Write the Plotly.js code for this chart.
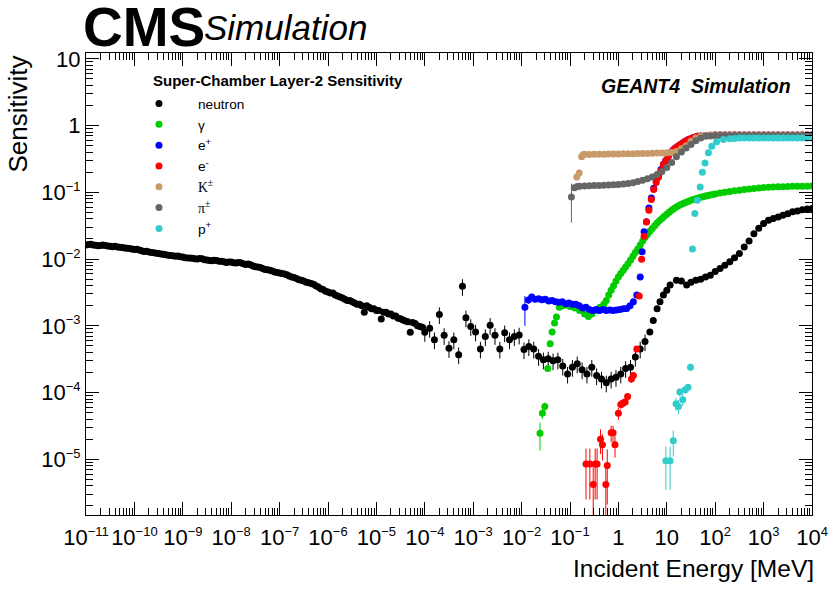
<!DOCTYPE html>
<html><head><meta charset="utf-8">
<script src="https://cdn.plot.ly/plotly-3.0.1.min.js"></script>
<style>html,body{margin:0;padding:0;background:#fff}#chart{width:830px;height:590px}</style>
</head><body><div id="chart"></div>
<script>
// ---------------- data (energy in MeV, sensitivity) ----------------
const neutronE = [
 1e-11,1.12e-11,1.26e-11,1.41e-11,1.58e-11,1.78e-11,2e-11,2.24e-11,2.51e-11,2.82e-11,3.16e-11,3.55e-11,3.98e-11,4.47e-11,5.01e-11,5.62e-11,6.31e-11,7.08e-11,7.94e-11,8.91e-11,
 1e-10,1.12e-10,1.26e-10,1.41e-10,1.58e-10,1.78e-10,2e-10,2.24e-10,2.51e-10,2.82e-10,3.16e-10,3.55e-10,3.98e-10,4.47e-10,5.01e-10,5.62e-10,6.31e-10,7.08e-10,7.94e-10,8.91e-10,
 1e-9,1.12e-9,1.26e-9,1.41e-9,1.58e-9,1.78e-9,2e-9,2.24e-9,2.51e-9,2.82e-9,3.16e-9,3.55e-9,3.98e-9,4.47e-9,5.01e-9,5.62e-9,6.31e-9,7.08e-9,7.94e-9,8.91e-9,
 1e-8,1.12e-8,1.26e-8,1.41e-8,1.58e-8,1.78e-8,2e-8,2.24e-8,2.51e-8,2.82e-8,3.16e-8,3.55e-8,3.98e-8,4.47e-8,5.01e-8,5.62e-8,6.31e-8,7.08e-8,7.94e-8,8.91e-8,
 1e-7,1.12e-7,1.26e-7,1.41e-7,1.58e-7,1.78e-7,2e-7,2.24e-7,2.51e-7,2.82e-7,3.16e-7,3.55e-7,3.98e-7,4.47e-7,5.01e-7,5.62e-7,6.31e-7,7.08e-7,7.94e-7,8.91e-7,
 1e-6,1.12e-6,1.26e-6,1.41e-6,1.58e-6,1.78e-6,2e-6,2.24e-6,2.51e-6,2.82e-6,3.16e-6,3.55e-6,3.98e-6,4.47e-6,5.01e-6,5.62e-6,6.31e-6,7.08e-6,7.94e-6,8.91e-6,
 1e-5,1.12e-5,1.26e-5,1.41e-5,1.58e-5,1.78e-5,2e-5,2.24e-5,2.51e-5,2.82e-5,3.16e-5,3.55e-5,3.98e-5,4.47e-5,5.01e-5,5.62e-5,6.31e-5,7.08e-5,7.94e-5,8.91e-5,
 1e-4,1.26e-4,1.58e-4,2e-4,2.51e-4,3.16e-4,3.98e-4,5.01e-4,6.0e-4,7.08e-4,8.91e-4,
 1.12e-3,1.41e-3,1.78e-3,2.24e-3,2.82e-3,3.55e-3,4.47e-3,5.62e-3,7.08e-3,8.91e-3,
 1.12e-2,1.41e-2,1.78e-2,2.24e-2,2.82e-2,3.55e-2,4.47e-2,5.62e-2,7.08e-2,8.91e-2,
 0.112,0.141,0.178,0.224,0.282,0.355,0.447,0.562,0.708,0.891,
 1.12,1.41,1.78,2.24,2.82,3.55,4.47,5.25,6.31,7.24,8.51,
 10,11.7,15.8,20,25.7,31.6,39.8,50.1,63.1,79.4,
 100,126,158,200,251,316,398,501,631,794,
 1000,1260,1580,2000,2510,3160,3980,5010,6310,7940,10000];
const neutronS = [
 0.0162,0.0165,0.0167,0.0163,0.0161,0.0158,0.0159,0.0162,0.0160,0.0157,0.0155,0.0153,0.0156,0.0152,0.0150,0.0149,0.0147,0.0145,0.0144,0.0141,
 0.0139,0.0140,0.0137,0.0133,0.0130,0.0131,0.0128,0.0125,0.0124,0.0122,0.0121,0.0119,0.0118,0.0116,0.0114,0.0113,0.0112,0.0110,0.0111,0.0108,
 0.0107,0.0105,0.0104,0.0104,0.0103,0.0101,0.0100,0.0102,0.0101,0.0098,0.0097,0.0095,0.0094,0.0096,0.0095,0.0093,0.0093,0.0091,0.0089,0.0090,
 0.0090,0.0088,0.0087,0.0089,0.0088,0.0085,0.0083,0.0084,0.0082,0.0079,0.0077,0.0076,0.0075,0.0072,0.0070,0.0069,0.0068,0.0066,0.0064,0.0063,
 0.0062,0.0061,0.0060,0.0058,0.0056,0.0054,0.0053,0.0051,0.0049,0.0048,0.0047,0.0045,0.0044,0.0043,0.0042,0.0040,0.0038,0.0036,0.0035,0.0033,
 0.0032,0.0031,0.0031,0.0029,0.0028,0.0027,0.0026,0.0025,0.0024,0.0024,0.0023,0.0022,0.0021,0.0021,0.0020,0.0016,0.0020,0.0019,0.0018,0.0018,
 0.0017,0.0017,0.00126,0.0016,0.0016,0.0015,0.0015,0.0014,0.0014,0.0013,0.00128,0.00122,0.00118,0.00115,0.00080,0.00112,0.00108,0.00100,0.00098,0.00095,
 0.00080,0.00092,0.00062,0.00148,0.00072,0.00046,0.00062,0.00037,0.0039,0.00132,0.00098,
 0.00081,0.00045,0.00069,0.00102,0.00072,0.00045,0.00079,0.00062,0.00069,0.00073,
 0.00044,0.00049,0.00045,0.00035,0.00031,0.00032,0.00030,0.00031,0.00025,0.00019,
 0.00024,0.00027,0.00022,0.00019,0.00024,0.00018,0.00016,0.00014,0.00016,0.00017,
 0.00019,0.00023,0.00024,0.00034,0.00045,0.00058,0.00081,0.0012,0.0018,0.0023,0.0029,
 0.0034,0.0041,0.0048,0.0047,0.0041,0.0045,0.0048,0.0050,0.0054,0.0057,
 0.0065,0.0072,0.0081,0.0091,0.0105,0.0121,0.0151,0.0186,0.0240,0.0290,
 0.0340,0.0380,0.0405,0.0428,0.0455,0.0478,0.0510,0.0525,0.0550,0.0563,0.0570];
// relative error (%) of neutron points by energy band [upper edge, percent]
const neutronErrBands = [[1e-5,3],[1e-4,8],[4,28],[20,8],[1e5,3]];

const gammaE = [0.024,0.0269,0.0302,0.0347,0.0389,0.0427,0.0479,0.0525,0.0603,0.0708,0.0851,
 0.1,0.126,0.158,0.2,0.24,0.282,0.355,0.417,0.5,0.562,0.631,0.708,0.794,0.891,
 1,1.12,1.26,1.41,1.58,1.78,2,2.24,2.51,2.82,3.16,3.55,3.98,4.47,5.01,5.62,6.31,7.08,7.94,8.91,
 10,11.2,12.6,14.1,15.8,17.8,20,22.4,25.1,28.2,31.6,35.5,39.8,44.7,50.1,56.2,63.1,70.8,79.4,89.1,
 100,126,158,200,251,316,398,501,631,794,1000,1260,1580,2000,2510,3160,3980,5010,6310,7940,10000];
const gammaS = [2.45e-5,4.9e-5,6.2e-5,2.3e-4,5.4e-4,8.1e-4,1.1e-3,1.35e-3,1.9e-3,2.0e-3,2.05e-3,
 1.95e-3,1.85e-3,1.7e-3,1.5e-3,1.38e-3,1.5e-3,1.7e-3,1.9e-3,2.1e-3,2.4e-3,2.9e-3,3.4e-3,4.0e-3,4.7e-3,
 5.4e-3,6.1e-3,6.8e-3,7.6e-3,8.5e-3,9.7e-3,0.011,0.0125,0.0141,0.0162,0.0186,0.021,0.0234,0.026,0.0288,0.0316,0.0347,0.0377,0.0407,0.0437,
 0.0468,0.0502,0.0537,0.057,0.0603,0.0632,0.0661,0.0685,0.0708,0.0733,0.0759,0.078,0.0804,0.0822,0.0841,0.086,0.0881,0.0896,0.0912,0.0928,
 0.0944,0.0977,0.1005,0.1028,0.1052,0.1076,0.1102,0.1122,0.1143,0.1161,0.118,0.1189,0.1197,0.1208,0.1216,0.1225,0.123,0.1232,0.1236,0.1236,0.1239];
const gammaErr = [1.1e-5,9e-6,9e-6,2e-5];

const positronE = [0.0117,0.0138,0.0162,0.019,0.0224,0.0263,0.0309,0.0363,0.0427,0.0501,0.0589,0.0692,0.0813,0.0955,
 0.112,0.132,0.155,0.182,0.214,0.251,0.295,0.347,0.407,0.479,0.562,0.661,0.776,0.912,
 1.07,1.26,1.48,1.74,2.04,2.4,2.82,3.09,3.39,3.8,4.27,4.79,5.37,6.03,6.76,7.59,8.51,9.55,
 10.7,12,13.5,15.1,17,19.1,21.4,24,26.9,30.2,33.9,38,42.7,50.1,63.1,79.4,
 100,126,158,200,251,316,398,501,631,794,1000,1260,1580,2000,2510,3160,3980,5010,6310,7940,10000];
const positronS = [1.9e-3,2.43e-3,2.7e-3,2.5e-3,2.55e-3,2.45e-3,2.5e-3,2.35e-3,2.4e-3,2.3e-3,2.25e-3,2.3e-3,2.15e-3,2.2e-3,
 2.1e-3,2.1e-3,2.0e-3,1.85e-3,1.9e-3,1.75e-3,1.7e-3,1.75e-3,1.7e-3,1.75e-3,1.7e-3,1.72e-3,1.7e-3,1.72e-3,
 1.75e-3,1.8e-3,1.82e-3,2.0e-3,2.3e-3,2.9e-3,5.4e-3,0.0129,0.0257,0.0363,0.058,0.082,0.115,0.15,0.18,0.22,0.26,0.30,
 0.345,0.39,0.43,0.46,0.49,0.52,0.55,0.58,0.61,0.63,0.65,0.67,0.69,0.70,0.71,0.715,
 0.72,0.72,0.72,0.72,0.72,0.72,0.72,0.72,0.72,0.72,0.72,0.72,0.72,0.72,0.72,0.72,0.72,0.72,0.72,0.72,0.72];
const positronErr = [9e-4,3e-4,2e-4,2e-4];

const electronE = [0.214,0.257,0.302,0.331,0.363,0.427,0.468,0.55,0.589,0.708,0.776,0.851,
 1.0,1.12,1.23,1.38,1.55,1.86,2.04,2.4,2.69,3.02,3.39,3.8,4.27,4.79,5.37,6.03,6.76,7.59,8.51,9.55,
 10.7,12,13.5,15.1,17,19.1,21.4,24,26.9,30.2,33.9,38,42.7,50.1,63.1,79.4,
 100,126,158,200,251,316,398,501,631,794,1000,1260,1580,2000,2510,3160,3980,5010,6310,7940,10000];
const electronS = [8.5e-6,8.5e-6,4.2e-6,8.5e-6,8.5e-6,2.0e-5,1.66e-5,4.2e-6,8.1e-6,2.5e-5,2.5e-5,1.66e-5,
 4.9e-5,6.6e-5,6.9e-5,7.2e-5,8.7e-5,1.6e-4,1.8e-4,4.5e-4,2.8e-3,9.9e-3,0.022,0.036,0.054,0.078,0.11,0.14,0.17,0.21,0.26,0.30,
 0.35,0.39,0.43,0.46,0.49,0.52,0.55,0.58,0.61,0.63,0.65,0.67,0.69,0.70,0.71,0.715,
 0.72,0.72,0.72,0.72,0.72,0.72,0.72,0.72,0.72,0.72,0.72,0.72,0.72,0.72,0.72,0.72,0.72,0.72,0.72,0.72,0.72];
const electronErr = [6e-6,6e-6,4.1e-6,6e-6,6e-6,8e-6,7e-6,4.1e-6,6e-6,7e-6,7e-6,6e-6,
 1e-5,1e-5,1e-5,1e-5,1e-5,2e-5,2e-5,3e-5];

const kaonE = [0.138,0.155,0.174,0.186,0.2,0.251,0.316,0.398,0.501,0.631,0.794,
 1,1.26,1.58,2,2.51,3.16,3.98,5.01,6.31,7.94,10,12.6,15.8,20,25.1,31.6,39.8,50.1,63.1,79.4,
 100,126,158,200,251,316,398,501,631,794,1000,1260,1580,2000,2510,3160,3980,5010,6310,7940,10000];
const kaonS = [0.17,0.195,0.34,0.365,0.372,0.37,0.372,0.371,0.373,0.374,0.375,
 0.376,0.377,0.378,0.379,0.38,0.381,0.383,0.385,0.387,0.389,0.392,0.395,0.41,0.45,0.50,0.58,0.65,0.69,0.71,0.715,
 0.72,0.72,0.72,0.72,0.72,0.72,0.72,0.72,0.72,0.72,0.72,0.72,0.72,0.72,0.72,0.72,0.72,0.72,0.72,0.72,0.72];
const kaonErr = [0.02,0.025];

const pionE = [0.107,0.123,0.141,0.158,0.2,0.251,0.316,0.398,0.501,0.631,0.794,
 1,1.26,1.58,2,2.51,3.16,3.98,5.01,6.31,7.94,10,12.6,15.8,20,25.1,31.6,39.8,50.1,63.1,79.4,
 100,126,158,200,251,316,398,501,631,794,1000,1260,1580,2000,2510,3160,3980,5010,6310,7940,10000];
const pionS = [0.085,0.117,0.122,0.123,0.124,0.125,0.126,0.127,0.128,0.129,0.130,
 0.131,0.133,0.136,0.139,0.145,0.152,0.160,0.170,0.185,0.205,0.235,0.28,0.34,0.40,0.46,0.52,0.59,0.65,0.69,0.70,
 0.71,0.71,0.71,0.71,0.71,0.71,0.71,0.71,0.71,0.71,0.71,0.71,0.71,0.71,0.71,0.71,0.71,0.71,0.71,0.71,0.71];
const pionErr = [0.05,0.01];

const protonE = [9.55,11.7,13.6,15.5,17.4,18.6,21.4,24,27.5,30.9,33.9,38,42.7,49,54.3,61.7,72.4,85.1,
 107,148,200,251,316,398,501,631,794,1000,1260,1580,2000,2510,3160,3980,5010,6310,7940,10000];
const protonS = [9.5e-6,9.5e-6,1.9e-5,6.8e-5,6.2e-5,1.02e-4,7.8e-5,1.1e-4,1.2e-4,2.4e-4,0.0141,0.048,0.076,0.12,0.20,0.275,0.39,0.49,
 0.57,0.62,0.635,0.64,0.65,0.65,0.65,0.65,0.65,0.65,0.65,0.65,0.65,0.65,0.65,0.65,0.65,0.65,0.65,0.65];
const protonErr = [6e-6,6e-6,8e-6,1.5e-5,1.5e-5,1.5e-5,1.5e-5,1.5e-5,1.5e-5,3e-5];

const seriesNames = ['neutron','γ','e<sup>+</sup>','e<sup>-</sup>',
 '<span style="font-family:\'Liberation Serif\',serif">K<sup>±</sup></span>',
 '<span style="font-family:\'Liberation Serif\',serif">π<sup>±</sup></span>','p<sup>+</sup>'];
const seriesColors = ['#000000','#00cc00','#0000ff','#ff0000','#c99b6b','#666666','#33cccc'];

const xTickVals = [1e-11,1e-10,1e-9,1e-8,1e-7,1e-6,1e-5,1e-4,1e-3,1e-2,1e-1,1,10,100,1000,10000];
const xTickLabels = ['10^−11','10^−10','10^−9','10^−8','10^−7','10^−6','10^−5','10^−4','10^−3','10^−2','10^−1','1','10','10^2','10^3','10^4'];
const yTickVals = [1e-5,1e-4,1e-3,1e-2,1e-1,1,10];
const yTickLabels = ['10^−5','10^−4','10^−3','10^−2','10^−1','1','10'];

// ---------------- build ----------------
const FONT = "'Liberation Sans', Arial, Helvetica, sans-serif";
function fmt(l){ const p=l.split('^'); return p.length>1 ? p[0]+'<sup><span style="font-size:13px">'+p[1]+'</span></sup>' : l; }
function padErr(e,n){ const a=new Array(n).fill(0); e.forEach((v,i)=>a[i]=v); return a; }
const nErr = neutronE.map((E,i)=>{ const b=neutronErrBands.find(b=>E<b[0]); return neutronS[i]*b[1]/100; });

const allE=[neutronE,gammaE,positronE,electronE,kaonE,pionE,protonE];
const allS=[neutronS,gammaS,positronS,electronS,kaonS,pionS,protonS];
const allErr=[nErr,gammaErr,positronErr,electronErr,kaonErr,pionErr,protonErr];
const traces = allE.map((E,k)=>({
  type:'scatter', mode:'markers', x:E, y:allS[k], name:seriesNames[k],
  marker:{color:seriesColors[k], size:7, line:{width:0}},
  error_y:{type:'data', array:padErr(allErr[k],E.length), visible:true, color:seriesColors[k], thickness:1, width:0},
  cliponaxis:true
}));

function minorVals(d0,d1){ const v=[]; for(let d=d0; d<=d1; d++) for(let k=2;k<=9;k++) v.push(k*Math.pow(10,d)); return v; }

const axisCommon = {
  type:'log', tickmode:'array', ticks:'inside', ticklen:13, tickwidth:1, tickcolor:'#000',
  showline:true, linecolor:'#000', linewidth:1, mirror:'allticks', showgrid:false, zeroline:false,
  tickfont:{family:FONT, size:22, color:'#000'}
};
const layout = {
  width:830, height:590, paper_bgcolor:'#fff', plot_bgcolor:'#fff',
  margin:{l:86, r:18, t:53, b:75},
  showlegend:true,
  legend:{x:0.0468, xanchor:'left', y:0.924, yanchor:'top', font:{family:FONT, size:13.7, color:'#000'},
          itemwidth:68, bgcolor:'rgba(0,0,0,0)', borderwidth:0, tracegroupgap:0},
  xaxis:Object.assign({}, axisCommon, {range:[-11,4], tickvals:xTickVals, ticktext:xTickLabels.map(fmt), ticklabelstandoff:3,
     minor:{tickmode:'array', tickvals:minorVals(-11,3), ticks:'inside', ticklen:7, tickwidth:1, tickcolor:'#000', showgrid:false}}),
  yaxis:Object.assign({}, axisCommon, {range:[-5.834,1.087], tickvals:yTickVals, ticktext:yTickLabels.map(fmt),
     minor:{tickmode:'array', tickvals:minorVals(-6,1), ticks:'inside', ticklen:7, tickwidth:1, tickcolor:'#000', showgrid:false}}),
  annotations:[
    {xref:'paper', yref:'paper', x:0, y:1, xanchor:'left', yanchor:'bottom', xshift:-5, yshift:-7,
     text:'<b>CMS</b>', font:{family:FONT, size:55, color:'#000'}, showarrow:false},
    {xref:'paper', yref:'paper', x:0, y:1, xanchor:'left', yanchor:'bottom', xshift:116, yshift:4,
     text:'<i>Simulation</i>', font:{family:FONT, size:35, color:'#000'}, showarrow:false},
    {xref:'paper', yref:'paper', x:0.9697, y:0.9286, xanchor:'right', yanchor:'middle', xshift:3,
     text:'<b><i>GEANT4\u00a0\u00a0Simulation</i></b>', font:{family:FONT, size:19.5, color:'#000'}, showarrow:false},
    {xref:'paper', yref:'paper', x:0.0895, y:0.9394, xanchor:'left', yanchor:'middle',
     text:'<b>Super-Chamber Layer-2 Sensitivity</b>', font:{family:FONT, size:15, color:'#000'}, showarrow:false},
    {xref:'paper', yref:'paper', x:-0.0937, y:1, xanchor:'center', yanchor:'top', textangle:-90,
     text:'Sensitivity', font:{family:FONT, size:26, color:'#000'}, showarrow:false},
    {xref:'paper', yref:'paper', x:1, y:0, xanchor:'right', yanchor:'middle', yshift:-53, xshift:4,
     text:'Incident Energy [MeV]', font:{family:FONT, size:24.5, color:'#000'}, showarrow:false}
  ]
};
Plotly.newPlot('chart', traces, layout, {staticPlot:true, displayModeBar:false});
</script></body></html>
